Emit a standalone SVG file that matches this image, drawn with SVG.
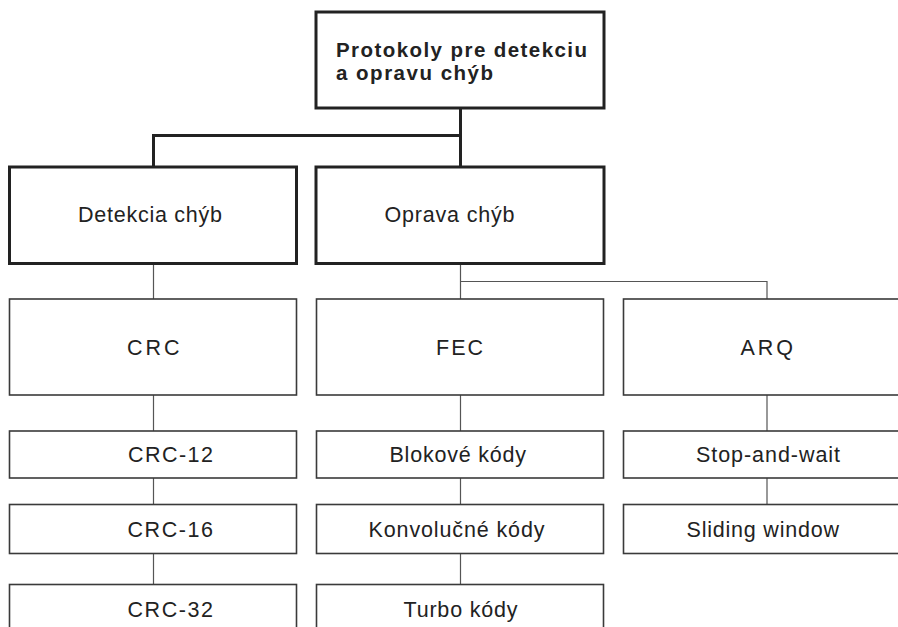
<svg xmlns="http://www.w3.org/2000/svg" width="898" height="627" viewBox="0 0 898 627">
<style>
rect{fill:#fff}
.b1{stroke:#222;stroke-width:3}
.b2{stroke:#3a3a3a;stroke-width:1.6}
.t{font-family:"Liberation Sans",Arial,sans-serif;font-size:21.5px;fill:#222}
.tb{font-weight:bold;font-size:20.5px}
.c1{fill:none;stroke:#222;stroke-width:3}
.c2{fill:none;stroke:#555;stroke-width:1.2}
</style>
<rect width="898" height="627" fill="#fff"/>
<g id="connectors">
<path class="c1" d="M460.5 108V135.5H153.5V167M460.5 135.5V167"/>
<path class="c2" d="M153.5 264V299M153.5 395V431M153.5 478V504M153.5 554V584"/>
<path class="c2" d="M460.5 264V299M460.5 281.5H767V299M460.5 395V431M460.5 478V504M460.5 554V584"/>
<path class="c2" d="M767 395V431M767 478V504"/>
</g>
<g id="root"><rect class="b1" x="316" y="12" width="288" height="96"/>
<text class="t tb" x="336" y="57" textLength="251" lengthAdjust="spacing">Protokoly pre detekciu</text>
<text class="t tb" x="336" y="80" textLength="157" lengthAdjust="spacing">a opravu chýb</text></g>
<g id="detekcia"><rect class="b1" x="9.5" y="167" width="287" height="96.5"/>
<text class="t" x="78" y="221.5" textLength="144" lengthAdjust="spacing">Detekcia chýb</text></g>
<g id="oprava"><rect class="b1" x="316" y="167" width="288" height="96.5"/>
<text class="t" x="384.5" y="221.5" textLength="130" lengthAdjust="spacing">Oprava chýb</text></g>
<g id="crc"><rect class="b2" x="9.5" y="299" width="287" height="96"/>
<text class="t" x="127" y="355" textLength="52.5" lengthAdjust="spacing">CRC</text></g>
<g id="fec"><rect class="b2" x="316.5" y="299" width="287" height="96"/>
<text class="t" x="436" y="355" textLength="47" lengthAdjust="spacing">FEC</text></g>
<g id="arq"><rect class="b2" x="623.5" y="299" width="300" height="96"/>
<text class="t" x="740.5" y="355" textLength="52.5" lengthAdjust="spacing">ARQ</text></g>
<g id="crc12"><rect class="b2" x="9.5" y="431" width="287" height="47"/>
<text class="t" x="128" y="462" textLength="85" lengthAdjust="spacing">CRC-12</text></g>
<g id="crc16"><rect class="b2" x="9.5" y="504.5" width="287" height="49"/>
<text class="t" x="127.5" y="536.5" textLength="85.5" lengthAdjust="spacing">CRC-16</text></g>
<g id="crc32"><rect class="b2" x="9.5" y="584.5" width="287" height="60"/>
<text class="t" x="127.5" y="616.5" textLength="85.5" lengthAdjust="spacing">CRC-32</text></g>
<g id="blokove"><rect class="b2" x="316.5" y="431" width="287" height="47"/>
<text class="t" x="389.5" y="462" textLength="136.5" lengthAdjust="spacing">Blokové kódy</text></g>
<g id="konvolucne"><rect class="b2" x="316.5" y="504.5" width="287" height="49"/>
<text class="t" x="368.5" y="537" textLength="176" lengthAdjust="spacing">Konvolučné kódy</text></g>
<g id="turbo"><rect class="b2" x="316.5" y="584.5" width="287" height="60"/>
<text class="t" x="403.5" y="617" textLength="114" lengthAdjust="spacing">Turbo kódy</text></g>
<g id="stopwait"><rect class="b2" x="623.5" y="431" width="300" height="47"/>
<text class="t" x="696" y="462" textLength="144" lengthAdjust="spacing">Stop-and-wait</text></g>
<g id="sliding"><rect class="b2" x="623.5" y="504.5" width="300" height="49"/>
<text class="t" x="686.5" y="536.5" textLength="152.5" lengthAdjust="spacing">Sliding window</text></g>
</svg>
